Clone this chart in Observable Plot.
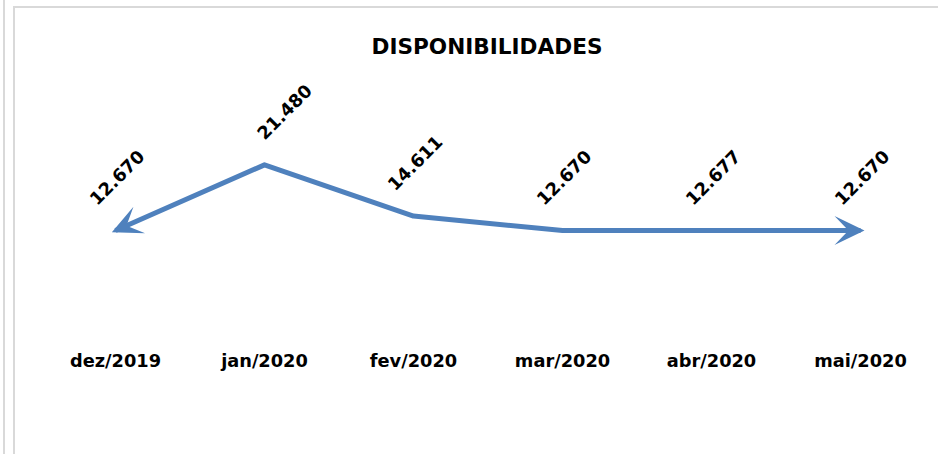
<!DOCTYPE html>
<html><head><meta charset="utf-8">
<script src="https://cdn.jsdelivr.net/npm/d3@7"></script>
<script src="https://cdn.jsdelivr.net/npm/@observablehq/plot@0.6"></script>
<style>
body{margin:0;background:#fff;font-family:"DejaVu Sans";}
#wrap{position:relative;width:938px;height:454px;overflow:hidden;background:#fff}
.vl1{position:absolute;left:3px;top:0;width:2px;height:454px;background:#d9d9d9}
.vl2{position:absolute;left:13px;top:6px;width:2px;height:448px;background:#d9d9d9}
.hl{position:absolute;left:13px;top:6px;width:925px;height:2px;background:#d9d9d9}
#title{position:absolute;left:36px;width:902px;top:36px;text-align:center;font-family:"DejaVu Sans";font-weight:bold;font-size:21.6px;line-height:21.6px;color:#000}
#chart{position:absolute;left:0;top:62px}
#chart svg text{font-weight:bold}
</style></head><body>
<div id="wrap"><div class="vl1"></div><div class="vl2"></div><div class="hl"></div>
<div id="title">DISPONIBILIDADES</div><div id="chart"></div></div>
<script>
const months = ["dez/2019","jan/2020","fev/2020","mar/2020","abr/2020","mai/2020"];
const values = [12.670, 21.480, 14.611, 12.670, 12.677, 12.670];
const labels = ["12.670","21.480","14.611","12.670","12.677","12.670"];
const data = months.map((m,i)=>({month:m, value:values[i], label:labels[i]}));
const maxV = d3.max(values);
const textOpts = {x:"month", y:"value", text:"label", rotate:-45, dy:-52.5, fontSize:17.8, fontWeight:"bold", fill:"#000", textAnchor:"middle"};
const plot = Plot.plot({
  width:938, height:392, marginLeft:113.5, marginRight:77.5, marginTop:76.1, marginBottom:129.5,
  style:{fontFamily:"DejaVu Sans", background:"transparent", overflow:"visible"},
  x:{type:"point", domain:months, padding:0, label:null},
  y:{domain:[0,25], axis:null},
  marks:[
    Plot.axisX({tickSize:0, tickPadding:29.6, fontSize:17.8, fontWeight:"bold", fill:"#000", label:null}),
    Plot.line(data,{x:"month", y:"value", stroke:"#4f81bd", strokeWidth:5, strokeLinecap:"butt", strokeLinejoin:"round"}),
    Plot.text(data.filter(d=>d.value!==maxV), {...textOpts, dx:2}),
    Plot.text(data.filter(d=>d.value===maxV), {...textOpts, dx:20.5})
  ]
});
document.getElementById("chart").appendChild(plot);
const svg = d3.select(plot);
const defs = svg.append("defs");
function mk(id, orient){
  defs.append("marker").attr("id",id).attr("markerUnits","userSpaceOnUse")
    .attr("viewBox","-40 -20 50 40").attr("markerWidth",50).attr("markerHeight",40)
    .attr("refX",0).attr("refY",0).attr("orient",orient).attr("overflow","visible")
    .append("path").attr("d","M4,0L-26,-14.5L-12,0L-26,14.5Z").attr("fill","#4f81bd");
}
mk("arrEnd","auto"); mk("arrStart","auto-start-reverse");
svg.select('g[aria-label="line"] path').attr("marker-start","url(#arrStart)").attr("marker-end","url(#arrEnd)");
</script>
</body></html>
